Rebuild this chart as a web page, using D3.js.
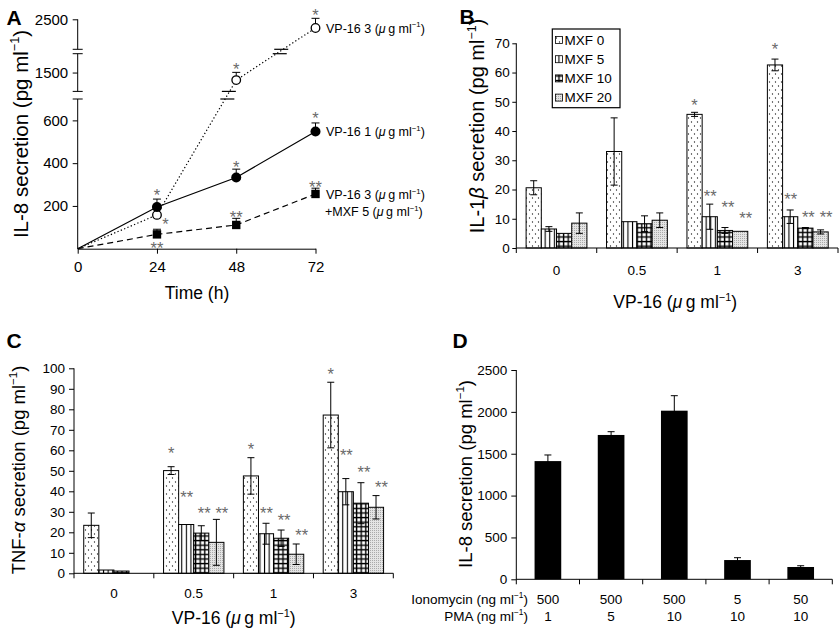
<!DOCTYPE html>
<html><head><meta charset="utf-8">
<script src="https://cdn.jsdelivr.net/npm/d3@7"></script>
<style>
body{margin:0;background:#fff}
svg text{font-family:"Liberation Sans",Arial,Helvetica,sans-serif;fill:#000}
</style>
</head><body>
<svg id="c" width="839" height="630"></svg>
<script>
// ---------------- Panel A data ----------------
const timesA = [0, 24, 48, 72];
const vp3A = [0, 158, 1300, 2384];
const vp3ErrA = [0, 28, 205, 129];
const vp1A = [0, 195, 333, 548];
const vp1ErrA = [0, 37, 39, 40];
const mxfA = [0, 67, 111, 256];
const mxfErrA = [0, 24, 31, 27];
const yTicksA = [200, 400, 600, 1500, 2500];
const axisSegmentsA = [[0, 700], [1000, 2000], [2100, 2500]];
const starTextA = ["*", "*", "**", "*", "**", "*", "*", "**", "*"];
const starTimeA = [24, 26.6, 24, 48, 48, 48, 72, 72, 72];
const starValA = [267, 134, 22, 401, 167, 1700, 626, 307, 2601];

// ---------------- Panel B data ----------------
const groupsBC = ["0", "0.5", "1", "3"];
const seriesNames = ["MXF 0", "MXF 5", "MXF 10", "MXF 20"];
const mxf0B = [20.6, 33, 45.7, 62.6];
const mxf5B = [6.5, 9, 10.7, 10.7];
const mxf10B = [5, 8.3, 6, 6.8];
const mxf20B = [8.5, 9.5, 5.7, 5.5];
const mxf0ErrB = [2.4, 11.5, 0.7, 2];
const mxf5ErrB = [0.8, 0, 4.3, 2.3];
const mxf10ErrB = [0, 2.7, 1, 0.2];
const mxf20ErrB = [3.5, 2.5, 0, 0.7];
const starsB = [["1", 0, "*", 50.2], ["1", 1, "**", 19], ["1", 2, "**", 15.4], ["1", 3, "**", 11.5],
                ["3", 0, "*", 69.2], ["3", 1, "**", 17.9], ["3", 2, "**", 11.9], ["3", 3, "**", 11.9]];
const yTicksB = [0, 10, 20, 30, 40, 50, 60, 70];

// ---------------- Panel C data ----------------
const mxf0C = [23.4, 50.1, 47.5, 77.2];
const mxf5C = [1.6, 23.8, 19.3, 39.8];
const mxf10C = [1.1, 19.6, 17.1, 34.2];
const mxf20C = [0, 15.1, 9.3, 32.2];
const mxf0ErrC = [6, 1.9, 8.9, 16];
const mxf5ErrC = [0, 0, 5.1, 6.4];
const mxf10ErrC = [0, 3.6, 4, 10];
const mxf20ErrC = [0, 11.2, 5, 5.7];
const starsC = [["0.5", 0, "*", 60.2], ["0.5", 1, "**", 39], ["0.5", 2, "**", 31.4], ["0.5", 3, "**", 31.4],
                ["1", 0, "*", 62.6], ["1", 1, "**", 31.2], ["1", 2, "**", 27.6], ["1", 3, "**", 20.3],
                ["3", 0, "*", 99.2], ["3", 1, "**", 59.3], ["3", 2, "**", 51.2], ["3", 3, "**", 43.6]];
const yTicksC = [0, 10, 20, 30, 40, 50, 60, 70, 80, 90, 100];

// ---------------- Panel D data ----------------
const ionomycinD = ["500", "500", "500", "5", "50"];
const pmaD = ["1", "5", "10", "10", "10"];
const il8D = [1412, 1724, 2014, 230, 147];
const il8ErrD = [73, 39, 179, 28, 15];
const yTicksD = [0, 500, 1000, 1500, 2000, 2500];

// ---------------- helpers ----------------
const svg = d3.select("#c");
const FONT = '"Liberation Sans",Arial,Helvetica,sans-serif';
const STAR_FS = 16.5;

function rich(t, parts, fs) {
  let shift = 0;
  parts.forEach(([s, st]) => {
    const ts = t.append("tspan").text(s);
    if (st === "sup") {
      ts.attr("font-size", fs * 0.62).attr("dy", -fs * 0.42);
      shift = fs * 0.42;
    } else {
      if (shift) { ts.attr("dy", shift); shift = 0; }
      if (st === "it") ts.attr("font-style", "italic");
    }
  });
  return t;
}
const unitPg = (pre) => [[pre + " (pg ml", ""], ["−1", "sup"], [")", ""]];
const unitVP = [["VP-16 (", ""], ["μ", "it"], ["\u2009g ml", ""], ["−1", "sup"], [")", ""]];

function styleAxis(g, fs) {
  g.attr("font-family", FONT).attr("font-size", fs);
  g.selectAll("path,line").attr("stroke", "#000").attr("stroke-width", 1);
  g.selectAll("text").attr("fill", "#000");
}

function star(g, x, y, txt) {
  g.append("text").attr("x", x).attr("y", y + STAR_FS * 0.58).attr("text-anchor", "middle")
    .attr("font-size", STAR_FS).style("fill", "#6a6a6a").text(txt);
}

function panelLetter(x, y, s) {
  svg.append("text").attr("x", x).attr("y", y).attr("font-size", 21).attr("font-weight", "bold").text(s);
}

// ---------------- patterns ----------------
const defs = svg.append("defs");
{
  const p = defs.append("pattern").attr("id", "pDots").attr("patternUnits", "userSpaceOnUse").attr("width", 6).attr("height", 8);
  p.append("rect").attr("width", 6).attr("height", 8).attr("fill", "#fff");
  p.append("circle").attr("cx", 1.5).attr("cy", 2).attr("r", 0.65).attr("fill", "#222");
  p.append("circle").attr("cx", 4.5).attr("cy", 6).attr("r", 0.65).attr("fill", "#222");
}
{
  const p = defs.append("pattern").attr("id", "pVert").attr("patternUnits", "userSpaceOnUse").attr("width", 4.6).attr("height", 4);
  p.append("rect").attr("width", 4.6).attr("height", 4).attr("fill", "#fff");
  p.append("rect").attr("x", 1.8).attr("width", 1.1).attr("height", 4).attr("fill", "#000");
}
{
  const p = defs.append("pattern").attr("id", "pGrid").attr("patternUnits", "userSpaceOnUse").attr("width", 4.6).attr("height", 4.6);
  p.append("rect").attr("width", 4.6).attr("height", 4.6).attr("fill", "#fff");
  p.append("rect").attr("x", 1.7).attr("width", 1.4).attr("height", 4.6).attr("fill", "#000");
  p.append("rect").attr("y", 1.7).attr("width", 4.6).attr("height", 1.4).attr("fill", "#000");
}
{
  const p = defs.append("pattern").attr("id", "pStip").attr("patternUnits", "userSpaceOnUse").attr("width", 2).attr("height", 2);
  p.append("rect").attr("width", 2).attr("height", 2).attr("fill", "#e4e4e4");
  p.append("rect").attr("width", 1).attr("height", 1).attr("fill", "#aaa");
}
const fills = ["url(#pDots)", "url(#pVert)", "url(#pGrid)", "url(#pStip)"];

// ================= Panel A =================
{
  const g = svg.append("g");
  const xA = d3.scaleLinear().domain([0, 72]).range([77.7, 315.5]);
  const yA = d3.scaleLinear().domain([0, 700, 1000, 2000, 2100, 2500]).range([248.7, 99, 91.4, 53.7, 49.3, 19.3]);

  const ya = g.append("g").attr("transform", `translate(${xA(0)},0)`)
    .call(d3.axisLeft(yA).tickValues(yTicksA).tickFormat(d3.format("d")).tickSize(5).tickSizeOuter(0).tickPadding(4.5));
  ya.select(".domain").remove();
  styleAxis(ya, 15);
  axisSegmentsA.forEach((s, i) => {
    g.append("line").attr("x1", xA(0)).attr("x2", xA(0)).attr("y1", yA(s[0])).attr("y2", yA(s[1])).attr("stroke", "#000");
    if (i > 0) g.append("line").attr("x1", xA(0) - 5).attr("x2", xA(0) + 5).attr("y1", yA(s[0])).attr("y2", yA(s[0])).attr("stroke", "#000");
    if (i < axisSegmentsA.length - 1) g.append("line").attr("x1", xA(0) - 5).attr("x2", xA(0) + 5).attr("y1", yA(s[1])).attr("y2", yA(s[1])).attr("stroke", "#000");
  });
  const xa = g.append("g").attr("transform", `translate(0,${yA(0)})`)
    .call(d3.axisBottom(xA).tickValues(timesA).tickSize(5).tickSizeOuter(0).tickPadding(8));
  styleAxis(xa, 15);

  const series = [
    {v: vp3A, e: vp3ErrA, dash: "1.3,2.3", mark: "open"},
    {v: vp1A, e: vp1ErrA, dash: null, mark: "fill"},
    {v: mxfA, e: mxfErrA, dash: "6,4", mark: "square"}
  ];
  const line = d3.line().x((d, i) => xA(timesA[i])).y(d => yA(d));
  series.forEach(s => {
    g.append("path").attr("d", line(s.v)).attr("fill", "none").attr("stroke", "#000")
      .attr("stroke-width", 1.2).attr("stroke-dasharray", s.dash);
  });
  const gaps = [];
  for (let i = 0; i < axisSegmentsA.length - 1; i++) gaps.push([axisSegmentsA[i][1], axisSegmentsA[i + 1][0]]);
  series.forEach(s => {
    for (let i = 0; i < s.v.length - 1; i++) {
      gaps.forEach(gp => {
        const ymid = (yA(gp[0]) + yA(gp[1])) / 2;
        const y0 = yA(s.v[i]), y1 = yA(s.v[i + 1]);
        if ((y0 - ymid) * (y1 - ymid) < 0) {
          const t = (ymid - y0) / (y1 - y0);
          const xm = xA(timesA[i]) + t * (xA(timesA[i + 1]) - xA(timesA[i]));
          [yA(gp[0]), yA(gp[1])].forEach((yy, k) => {
            g.append("line").attr("x1", xm - 7 + k * 1.5).attr("x2", xm + 7 + k * 1.5)
              .attr("y1", yy).attr("y2", yy).attr("stroke", "#000").attr("stroke-width", 1.2);
          });
        }
      });
    }
  });
  series.forEach(s => {
    s.v.forEach((v, i) => {
      if (!s.e[i]) return;
      const x = xA(timesA[i]);
      g.append("line").attr("x1", x).attr("x2", x).attr("y1", yA(v)).attr("y2", yA(v + s.e[i])).attr("stroke", "#000");
      g.append("line").attr("x1", x - 4).attr("x2", x + 4).attr("y1", yA(v + s.e[i])).attr("y2", yA(v + s.e[i])).attr("stroke", "#000");
    });
  });
  series.forEach(s => {
    s.v.forEach((v, i) => {
      if (i === 0) return;
      const x = xA(timesA[i]), y = yA(v);
      if (s.mark === "open") g.append("circle").attr("cx", x).attr("cy", y).attr("r", 4.3).attr("fill", "#fff").attr("stroke", "#000").attr("stroke-width", 1.3);
      else if (s.mark === "fill") g.append("circle").attr("cx", x).attr("cy", y).attr("r", 5).attr("fill", "#000");
      else g.append("rect").attr("x", x - 4.2).attr("y", y - 4.2).attr("width", 8.4).attr("height", 8.4).attr("fill", "#000");
    });
  });
  starTextA.forEach((t, i) => star(g, xA(starTimeA[i]), yA(starValA[i]), t));
  const lx = xA(72) + 10.5;
  rich(g.append("text").attr("x", lx).attr("y", yA(vp3A[3]) + 4.5).attr("font-size", 12.5),
    [["VP-16 3 (", ""], ["μ", "it"], ["\u2009g ml", ""], ["−1", "sup"], [")", ""]], 12.5);
  rich(g.append("text").attr("x", lx).attr("y", yA(vp1A[3]) + 4.5).attr("font-size", 12.5),
    [["VP-16 1 (", ""], ["μ", "it"], ["\u2009g ml", ""], ["−1", "sup"], [")", ""]], 12.5);
  rich(g.append("text").attr("x", lx).attr("y", yA(mxfA[3]) + 5.5).attr("font-size", 12.5),
    [["VP-16 3 (", ""], ["μ", "it"], ["\u2009g ml", ""], ["−1", "sup"], [")", ""]], 12.5);
  rich(g.append("text").attr("x", lx - 1).attr("y", yA(mxfA[3]) + 22.5).attr("font-size", 12.5),
    [["+MXF 5 (", ""], ["μ", "it"], ["\u2009g ml", ""], ["−1", "sup"], [")", ""]], 12.5);
  g.append("text").attr("x", 197).attr("y", 299).attr("text-anchor", "middle").attr("font-size", 17.5).text("Time (h)");
  rich(g.append("text").attr("transform", "translate(27.5,134) rotate(-90)").attr("text-anchor", "middle").attr("font-size", 20.5),
    unitPg("IL-8 secretion"), 20.5);
  panelLetter(6.5, 25, "A");
}

// ================= grouped bar panels (B, C) =================
function groupedPanel(opt) {
  const g = svg.append("g");
  const x0 = d3.scaleBand().domain(groupsBC).range(opt.xr).paddingInner(0).paddingOuter(0);
  const x1 = d3.scaleBand().domain(d3.range(4)).range([0, x0.bandwidth()]).paddingInner(0).paddingOuter(opt.po);
  const y = d3.scaleLinear().domain(opt.yd).range(opt.yr);

  groupsBC.forEach((grp, gi) => {
    opt.vals.forEach((arr, si) => {
      const v = arr[gi];
      if (v <= 0) return;
      g.append("rect").attr("x", x0(grp) + x1(si)).attr("y", y(v)).attr("width", x1.bandwidth())
        .attr("height", y(0) - y(v)).attr("fill", fills[si]).attr("stroke", "#000").attr("stroke-width", 1);
    });
  });
  groupsBC.forEach((grp, gi) => {
    opt.errs.forEach((arr, si) => {
      const e = arr[gi], v = opt.vals[si][gi];
      if (!e) return;
      const cx = x0(grp) + x1(si) + x1.bandwidth() / 2;
      g.append("line").attr("x1", cx).attr("x2", cx).attr("y1", y(v - e)).attr("y2", y(v + e)).attr("stroke", "#000");
      [v - e, v + e].forEach(yy => g.append("line").attr("x1", cx - 3.5).attr("x2", cx + 3.5).attr("y1", y(yy)).attr("y2", y(yy)).attr("stroke", "#000"));
    });
  });
  opt.stars.forEach(([grp, si, t, val]) => {
    const dx = t.length > 1 ? opt.starDx + (si - 2) * 2.5 : 0;
    const cx = x0(grp) + x1(si) + x1.bandwidth() / 2 + dx;
    star(g, cx, y(val), t);
  });
  const ya = g.append("g").attr("transform", `translate(${opt.xr[0]},0)`)
    .call(d3.axisLeft(y).tickValues(opt.yt).tickFormat(d3.format("d")).tickSize(opt.ytick).tickSizeOuter(0).tickPadding(opt.ypad));
  styleAxis(ya, 13.5);
  ya.select(".domain").attr("d", `M0,${y(opt.yd[1])}V${y(0) + 5}`);
  const xa = g.append("g");
  xa.append("line").attr("x1", opt.xr[0]).attr("x2", opt.xr[1]).attr("y1", y(0)).attr("y2", y(0)).attr("stroke", "#000");
  groupsBC.forEach(grp => {
    const bx = x0(grp) + x0.bandwidth();
    xa.append("line").attr("x1", bx).attr("x2", bx).attr("y1", y(0)).attr("y2", y(0) + 5).attr("stroke", "#000");
    xa.append("text").attr("x", x0(grp) + x0.bandwidth() / 2).attr("y", y(0) + opt.xlabDy)
      .attr("text-anchor", "middle").attr("font-size", 13.5).text(grp);
  });
  rich(g.append("text").attr("x", (opt.xr[0] + opt.xr[1]) / 2 + opt.xtDx).attr("y", opt.xtY).attr("text-anchor", "middle").attr("font-size", 17.5),
    unitVP, 17.5);
  rich(g.append("text").attr("transform", `translate(${opt.ytX},${opt.ytY}) rotate(-90)`).attr("text-anchor", "middle").attr("font-size", opt.ytFs),
    opt.ytParts, opt.ytFs);
  return {g, x0, x1, y};
}

// ================= Panel B =================
{
  const r = groupedPanel({
    xr: [516.3, 838], po: 0.645, yd: [0, 70], yr: [248, 43.3], yt: yTicksB, ytick: 4, ypad: 2.5,
    vals: [mxf0B, mxf5B, mxf10B, mxf20B], errs: [mxf0ErrB, mxf5ErrB, mxf10ErrB, mxf20ErrB],
    stars: starsB, starDx: 3, xlabDy: 27, xtDx: -2, xtY: 308,
    ytX: 484, ytY: 126, ytFs: 20,
    ytParts: [["IL-1", ""], ["β", "it"], [" secretion (pg ml", ""], ["−1", "sup"], [")", ""]]
  });
  const lg = r.g.append("g");
  lg.append("rect").attr("x", 552.3).attr("y", 29).attr("width", 67.7).attr("height", 78.7)
    .attr("fill", "#fff").attr("stroke", "#000").attr("stroke-width", 1.2);
  seriesNames.forEach((n, i) => {
    const cy = 40 + i * 19.2;
    lg.append("rect").attr("x", 555.5).attr("y", cy - 3.5).attr("width", 7).attr("height", 7)
      .attr("fill", fills[i]).attr("stroke", "#000").attr("stroke-width", 0.8);
    lg.append("text").attr("x", 564.5).attr("y", cy + 4.8).attr("font-size", 13.5).text(n);
  });
  panelLetter(459.5, 24, "B");
}

// ================= Panel C =================
{
  groupedPanel({
    xr: [74, 393.3], po: 0.645, yd: [0, 100], yr: [573.3, 368.3], yt: yTicksC, ytick: 5, ypad: 4,
    vals: [mxf0C, mxf5C, mxf10C, mxf20C], errs: [mxf0ErrC, mxf5ErrC, mxf10ErrC, mxf20ErrC],
    stars: starsC, starDx: 3, xlabDy: 24.5, xtDx: 0, xtY: 624,
    ytX: 25, ytY: 470, ytFs: 18.5,
    ytParts: [["TNF-", ""], ["α", "it"], [" secretion (pg ml", ""], ["−1", "sup"], [")", ""]]
  });
  panelLetter(6.5, 348, "C");
}

// ================= Panel D =================
{
  const g = svg.append("g");
  const xD = d3.scaleBand().domain(d3.range(il8D.length)).range([516.3, 832.3]).paddingInner(0.578).paddingOuter(0.289);
  const xStep = d3.scaleBand().domain(d3.range(il8D.length)).range([516.3, 832.3]);
  const yD = d3.scaleLinear().domain([0, 2500]).range([579.3, 370]);
  il8D.forEach((v, i) => {
    g.append("rect").attr("x", xD(i)).attr("y", yD(v)).attr("width", xD.bandwidth()).attr("height", yD(0) - yD(v)).attr("fill", "#000");
    const cx = xD(i) + xD.bandwidth() / 2;
    g.append("line").attr("x1", cx).attr("x2", cx).attr("y1", yD(v - il8ErrD[i])).attr("y2", yD(v + il8ErrD[i])).attr("stroke", "#000");
    g.append("line").attr("x1", cx - 3.5).attr("x2", cx + 3.5).attr("y1", yD(v + il8ErrD[i])).attr("y2", yD(v + il8ErrD[i])).attr("stroke", "#000");
  });
  const ya = g.append("g").attr("transform", "translate(516.3,0)")
    .call(d3.axisLeft(yD).tickValues(yTicksD).tickFormat(d3.format("d")).tickSize(5).tickSizeOuter(0).tickPadding(4));
  styleAxis(ya, 13.5);
  ya.select(".domain").attr("d", `M0,${yD(2500)}V${yD(0) + 5}`);
  g.append("line").attr("x1", 516.3).attr("x2", 832.3).attr("y1", yD(0)).attr("y2", yD(0)).attr("stroke", "#000");
  il8D.forEach((v, i) => {
    const bx = xStep(i) + xStep.bandwidth();
    g.append("line").attr("x1", bx).attr("x2", bx).attr("y1", yD(0)).attr("y2", yD(0) + 5).attr("stroke", "#000");
    const cx = xStep(i) + xStep.bandwidth() / 2;
    g.append("text").attr("x", cx).attr("y", 603.5).attr("text-anchor", "middle").attr("font-size", 13.5).text(ionomycinD[i]);
    g.append("text").attr("x", cx).attr("y", 621).attr("text-anchor", "middle").attr("font-size", 13.5).text(pmaD[i]);
  });
  rich(g.append("text").attr("x", 528).attr("y", 603.5).attr("text-anchor", "end").attr("font-size", 13.5),
    [["Ionomycin (ng ml", ""], ["−1", "sup"], [")", ""]], 13.5);
  rich(g.append("text").attr("x", 528).attr("y", 621).attr("text-anchor", "end").attr("font-size", 13.5),
    [["PMA (ng ml", ""], ["−1", "sup"], [")", ""]], 13.5);
  rich(g.append("text").attr("transform", "translate(472,474) rotate(-90)").attr("text-anchor", "middle").attr("font-size", 18.5),
    unitPg("IL-8 secretion"), 18.5);
  panelLetter(452.5, 347.5, "D");
}
</script>
</body></html>
